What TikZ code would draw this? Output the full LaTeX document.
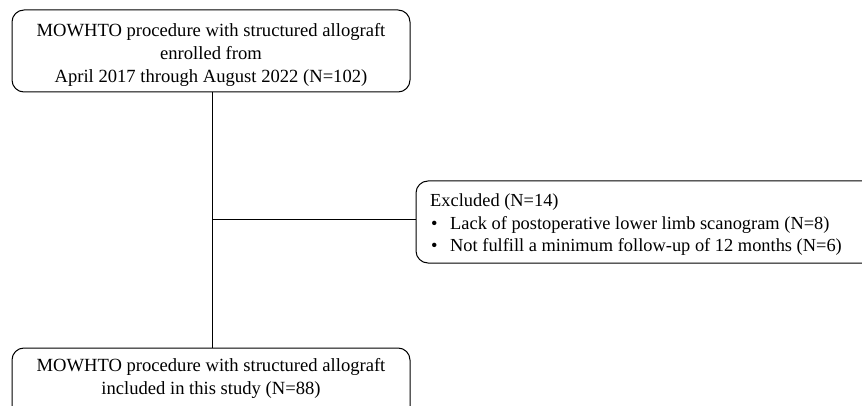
\documentclass[tikz,border=0pt]{standalone}
\usepackage{fontspec}
\setmainfont{Liberation Serif}
\begin{document}
\begin{tikzpicture}[x=1pt,y=-1pt,
  boxstyle/.style={draw=black, line width=1pt, rounded corners=12pt, inner sep=0pt},
  txt/.style={font=\fontsize{18.6}{23}\selectfont, align=center, inner sep=0pt},
  conn/.style={line width=1pt}]
\useasboundingbox (0,0) rectangle (862,406);
\clip (0,0) rectangle (862,406);
\draw[boxstyle] (12,10) rectangle (410,92);
\node[txt] (top) at (211,55) {MOWHTO procedure with structured allograft\\enrolled from\\April 2017 through August 2022 (N=102)};
\draw[boxstyle] (416,181) rectangle (875,263);
\node[txt, align=left, anchor=west, font=\fontsize{18.4}{22.5}\selectfont] (excl) at (430,225) {Excluded (N=14)\\
\makebox[20pt][l]{\hspace{1pt}•}Lack of postoperative lower limb scanogram (N=8)\\
\makebox[20pt][l]{\hspace{1pt}•}Not fulfill a minimum follow-up of 12 months (N=6)};
\draw[boxstyle] (12,348) rectangle (410,420);
\node[txt] (bot) at (211,378) {MOWHTO procedure with structured allograft\\included in this study (N=88)};
\coordinate (tb) at (212,92);
\coordinate (bt) at (212,348);
\coordinate (mid) at (212,220);
\coordinate (rl) at (416,220);
\draw[conn] (tb) -- (bt);
\draw[conn] (mid) -- (rl);
\end{tikzpicture}
\end{document}
